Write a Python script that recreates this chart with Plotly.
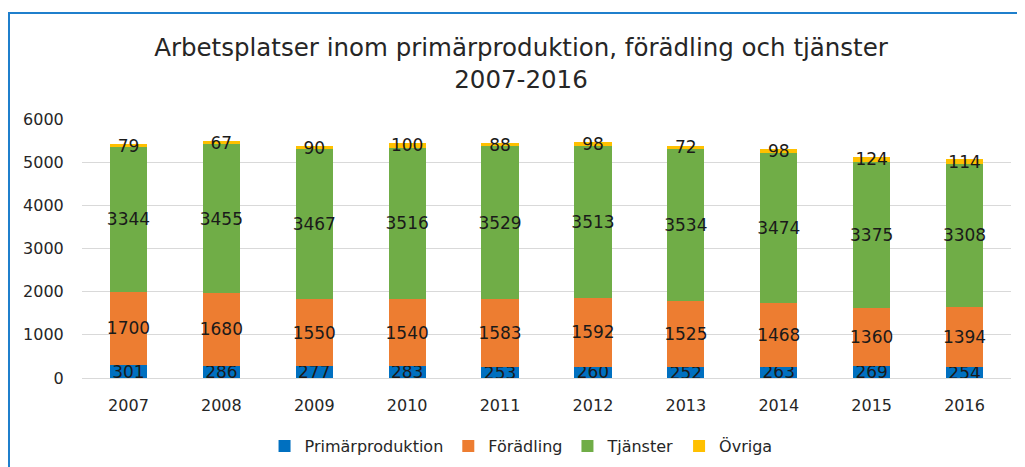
import plotly.graph_objects as go

years = ["2007", "2008", "2009", "2010", "2011", "2012", "2013", "2014", "2015", "2016"]
primar = [301, 286, 277, 283, 253, 260, 252, 263, 269, 254]
foradling = [1700, 1680, 1550, 1540, 1583, 1592, 1525, 1468, 1360, 1394]
tjanster = [3344, 3455, 3467, 3516, 3529, 3513, 3534, 3474, 3375, 3308]
ovriga = [79, 67, 90, 100, 88, 98, 72, 98, 124, 114]

series = [
    ("Primärproduktion", primar, "#0070C0"),
    ("Förädling", foradling, "#ED7D31"),
    ("Tjänster", tjanster, "#70AD47"),
    ("Övriga", ovriga, "#FFC000"),
]

FONT = "DejaVu Sans"
fig = go.Figure()
for name, vals, col in series:
    fig.add_trace(go.Bar(
        x=years, y=vals, name=name,
        marker=dict(color=col, line=dict(width=0)),
        text=[str(v) for v in vals],
        textposition="inside", insidetextanchor="middle",
        constraintext="none", textangle=0,
        textfont=dict(family=FONT, size=17, color="#1a1a1a"),
        cliponaxis=False,
    ))

# page body has an 8px margin, so figure coordinates are offset by (8, 8)
L, T, R, B = 74, 111, 22, 97
PW = 1025 - L - R
PH = 467 - T - B

fig.update_layout(
    barmode="stack",
    bargap=0.6,
    width=1025, height=467,
    margin=dict(l=L, r=R, t=T, b=B, autoexpand=False),
    paper_bgcolor="white", plot_bgcolor="white",
    font=dict(family=FONT, size=16, color="#262626"),
    title=dict(
        text="Arbetsplatser inom primärproduktion, förädling och tjänster<br>2007-2016",
        x=0.5005, xref="container", xanchor="center",
        y=1 - 48 / 467, yref="container", yanchor="middle",
        font=dict(family=FONT, size=24.5, color="#262626"),
    ),
    legend=dict(
        orientation="h", x=0.4726, xanchor="center", y=-0.263, yanchor="middle",
        font=dict(family=FONT, size=16, color="#262626"),
        traceorder="normal",
    ),
    xaxis=dict(
        automargin=False,
        showgrid=False, showline=True, linecolor="#D9D9D9", linewidth=1,
        ticks="outside", ticklen=13, tickcolor="rgba(0,0,0,0)",
        tickfont=dict(family=FONT, size=16, color="#262626"),
    ),
    yaxis=dict(
        automargin=False,
        range=[0, 6000], dtick=1000, showgrid=True, gridcolor="#D9D9D9", gridwidth=1,
        zeroline=False, showline=False,
        ticks="outside", ticklen=14, tickcolor="rgba(0,0,0,0)",
        tickfont=dict(family=FONT, size=16, color="#262626"),
    ),
    shapes=[dict(
        type="rect", xref="paper", yref="paper",
        x0=(1 - L) / PW, x1=1.2, y0=-0.6, y1=(PH + T - 5) / PH,
        line=dict(color="#1F7FCC", width=2), fillcolor="rgba(0,0,0,0)", layer="above",
    )],
)

fig.write_html("out.html")
